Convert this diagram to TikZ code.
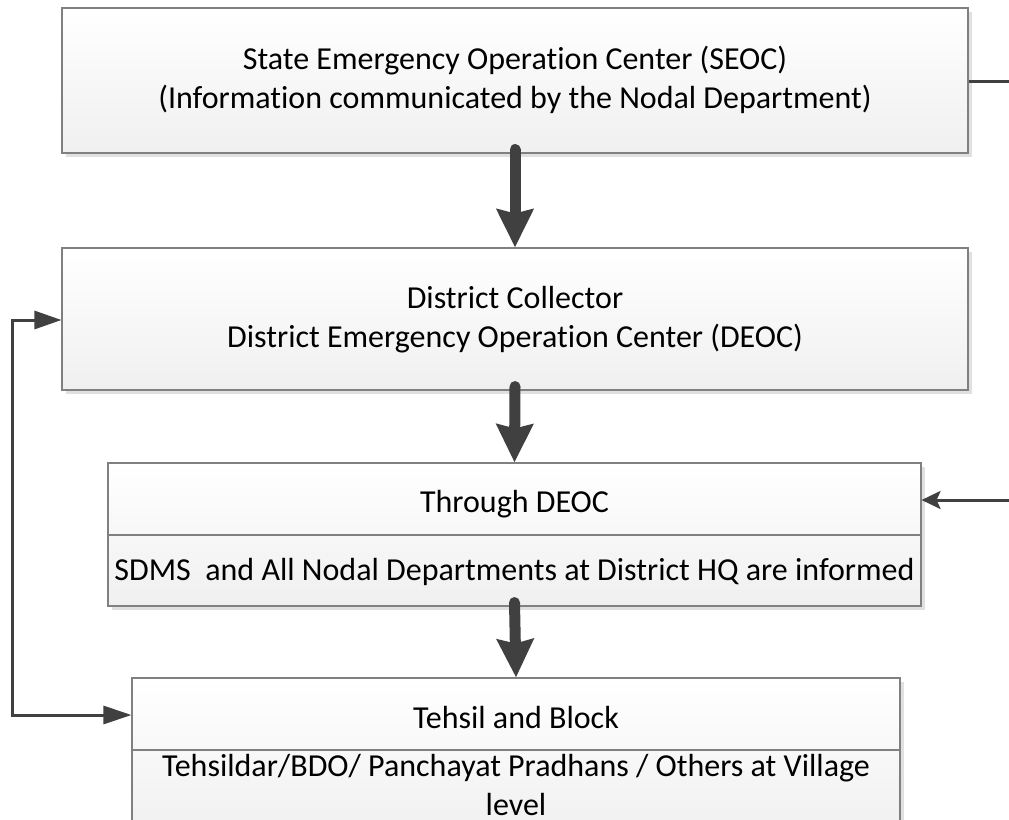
\documentclass[tikz,border=0pt]{standalone}
\usepackage{fontspec}
\setmainfont{Carlito}[Ligatures=NoCommon]
\usetikzlibrary{arrows.meta,shadows}
\begin{document}
\begin{tikzpicture}[x=1pt,y=-1pt,
  box/.style={draw=black!50, line width=1.1pt, top color=white, bottom color=black!6,
    drop shadow={shadow xshift=4pt, shadow yshift=-4pt, fill=black!12, opacity=1},
    inner sep=0pt, rectangle},
  txt/.style={font=\fontsize{32}{39}\selectfont, text=black, inner sep=0pt, align=center},
  bigarrow/.style={draw=black!75, line width=11pt, line cap=round, -{Stealth[width=36pt,length=38pt,inset=4pt]}},
  thinarrow/.style={draw=black!75, line width=3pt, {Triangle[width=18pt,length=28pt]}-{Triangle[width=18pt,length=27pt]}},
  inarrow/.style={draw=black!75, line width=3pt, -{Stealth[width=18pt,length=19pt,inset=4pt]}},
  thinline/.style={draw=black!75, line width=3pt}]
\useasboundingbox (0,0) rectangle (1009,819);
\begin{scope}
\clip (0,0) rectangle (1009,819);
% boxes
\node[box, minimum width=906pt, minimum height=145pt] (b1) at (515,80.5) {};
\node[box, minimum width=906pt, minimum height=142pt] (b2) at (515,319) {};
\node[box, minimum width=813pt, minimum height=143pt] (b3) at (514.5,534.5) {};
\node[box, minimum width=768pt, minimum height=160pt] (b4) at (516,758) {};
\draw[black!50, line width=1.1pt] (b3.west |- 0,535) coordinate (d3l) -- (b3.east |- 0,535) coordinate (d3r);
\draw[black!50, line width=1.1pt] (b4.west |- 0,750) coordinate (d4l) -- (b4.east |- 0,750) coordinate (d4r);
% texts
\node[txt] (t1) at (515,80) {State Emergency Operation Center (SEOC)\\(Information communicated by the Nodal Department)};
\node[txt] (t2) at (515,320) {District Collector\\District Emergency Operation Center (DEOC)};
\node[txt] (t3a) at (514.5,504) {Through DEOC};
\node[txt] (t3b) at (514.5,572) {SDMS\ \ and All Nodal Departments at District HQ are informed};
\node[txt] (t4a) at (516,717) {Tehsil and Block};
\node[txt] (t4b) at (516,785) {Tehsildar/BDO/ Panchayat Pradhans / Others at Village\\level};
% big arrows
\draw[bigarrow] ([yshift=4pt]b1.south) -- (b2.north);
\draw[bigarrow] ([yshift=4pt]b2.south) -- (b3.north);
\draw[bigarrow] ([yshift=4pt]b3.south) -- (b4.north);
% side connectors
\coordinate (rTop) at (1015,81);
\coordinate (rMid) at (1015,500);
\coordinate (lx) at (12,0);
\draw[thinline] (b1.east |- rTop) -- (rTop);
\draw[inarrow] (rMid) -- (b3.east |- rMid);
\draw[thinarrow] (b4.west |- 0,715) -- (lx |- 0,715) -- (lx |- 0,320) -- (b2.west |- 0,320);
\end{scope}
\end{tikzpicture}
\end{document}
